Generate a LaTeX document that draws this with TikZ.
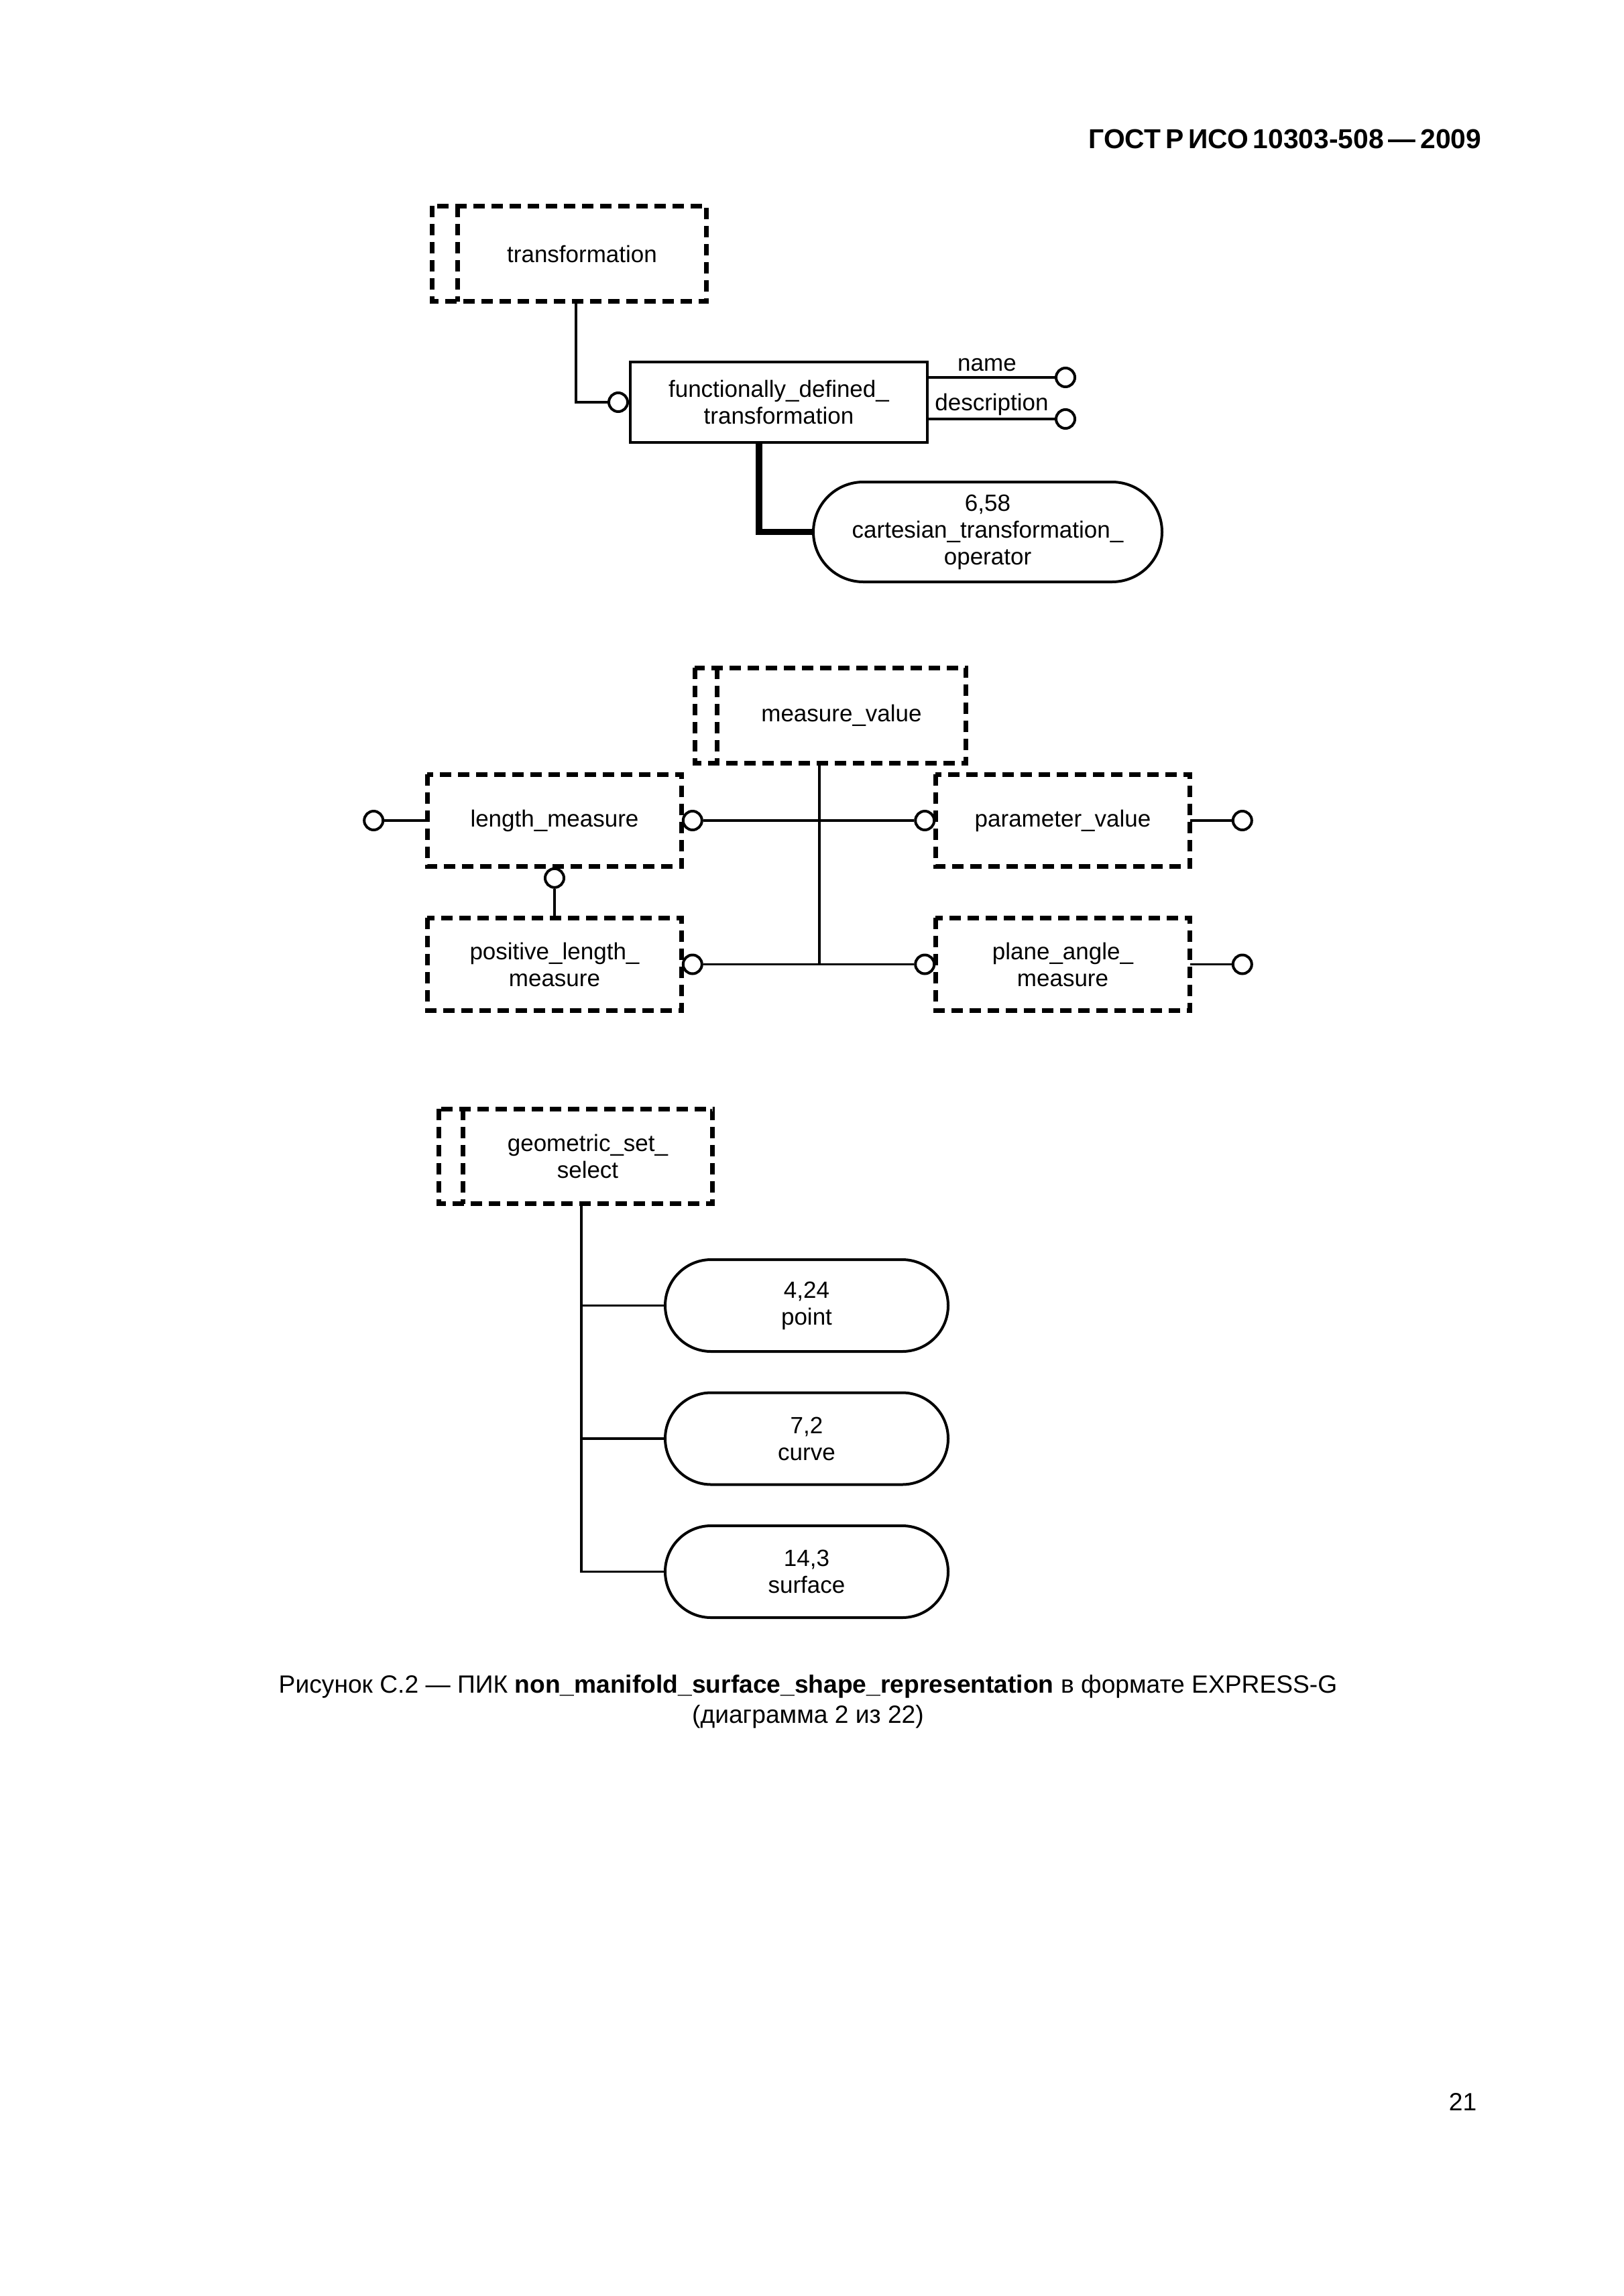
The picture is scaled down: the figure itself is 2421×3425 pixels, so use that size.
\documentclass[tikz,border=0pt]{standalone}
\usepackage{fontspec}
\setmainfont{Liberation Sans}
\usetikzlibrary{calc,shapes.misc}
\newcommand{\nodefont}{\fontsize{8.75pt}{10pt}\selectfont}
\newcommand{\hsp}{\hspace{0.17em}}
\begin{document}
\begin{tikzpicture}[x=0.25pt,y=-0.25pt,
  ent/.style={draw, line width=1pt, rectangle, inner sep=0pt, align=center, font=\nodefont},
  typ/.style={rectangle, inner sep=0pt, align=center, font=\nodefont},
  typstrip/.style={line width=1.75pt, dash pattern=on 4.25pt off 2.5pt},
  oval/.style={draw, line width=1pt, rounded rectangle, inner sep=0pt, align=center, font=\nodefont},
  circ/.style={circle, draw, line width=1pt, minimum size=7pt, inner sep=0pt, fill=white},
  conn/.style={line width=0.875pt},
  thickconn/.style={line width=2.4pt},
  lbl/.style={inner sep=0pt, font=\nodefont}]
\fill[white] (0,0) rectangle (2421,3425);
\useasboundingbox (0,0) rectangle (2421,3425);

% header and page number
\node[font=\fontsize{10.2pt}{12pt}\selectfont\bfseries, anchor=base east, inner sep=0pt] (hdr) at (2210,222) {ГОСТ\hsp Р\hsp ИСО\hsp 10303-508\hsp —\hsp 2009};
\node[font=\fontsize{9.3pt}{11pt}\selectfont, anchor=base east, inner sep=0pt] (pg) at (2203,3148) {21};

% ---------- section 1 ----------
\node[typ, minimum width=92.5pt, minimum height=35.25pt] (tr) at (868,378.5) {transformation};
\draw[typstrip] ($(tr.north west)+(-38,0)$) rectangle (tr.south east);
\draw[typstrip] (tr.north west) -- (tr.south west);

\node[ent, minimum width=110.75pt, minimum height=30pt] (fdt) at (1161.5,600) {functionally\_defined\_\\transformation};
\node[circ] (c1) at ($(fdt.west)+(-16,0)$) {};
\draw[conn] ($(tr.south)+(-9,0)$) |- (c1.west);

\node[circ] (cn) at (1589,563) {};
\node[circ] (cd) at (1589,625) {};
\draw[conn] (fdt.east |- cn) -- (cn.west);
\draw[conn] (fdt.east |- cd) -- (cd.west);
\node[lbl, anchor=base] (lname) at (1472,553) {name};
\node[lbl, anchor=base] (ldesc) at (1479,612) {description};

\node[oval, minimum width=130pt, minimum height=37.25pt] (cto) at (1473,793.5) {6,58\\cartesian\_transformation\_\\operator};
\draw[thickconn] ($(fdt.south)+(-29.5,0)$) |- (cto.west);

% ---------- section 2 ----------
\node[typ, minimum width=92.5pt, minimum height=35.25pt] (mv) at (1255,1067.5) {measure\_value};
\draw[typstrip] ($(mv.north west)+(-33,0)$) rectangle (mv.south east);
\draw[typstrip] (mv.north west) -- (mv.south west);

\node[typ, minimum width=94.5pt, minimum height=34pt] (lm) at (827,1224) {length\_measure};
\node[typ, minimum width=94.5pt, minimum height=34pt] (pv) at (1585,1224) {parameter\_value};
\node[typ, minimum width=94.5pt, minimum height=34.25pt] (plm) at (827,1438.5) {positive\_length\_\\measure};
\node[typ, minimum width=94.5pt, minimum height=34.25pt] (pa) at (1585,1438.5) {plane\_angle\_\\measure};
\draw[typstrip] (lm.north west) rectangle (lm.south east);
\draw[typstrip] (pv.north west) rectangle (pv.south east);
\draw[typstrip] (plm.north west) rectangle (plm.south east);
\draw[typstrip] (pa.north west) rectangle (pa.south east);

\node[circ] (lmL) at ($(lm.west)+(-80,0)$) {};
\node[circ] (lmR) at ($(lm.east)+(16,0)$) {};
\node[circ] (lmB) at ($(lm.south)+(0,17)$) {};
\node[circ] (pvL) at ($(pv.west)+(-16,0)$) {};
\node[circ] (pvR) at ($(pv.east)+(78,0)$) {};
\node[circ] (plmR) at ($(plm.east)+(16,0)$) {};
\node[circ] (paL) at ($(pa.west)+(-16,0)$) {};
\node[circ] (paR) at ($(pa.east)+(78,0)$) {};

\draw[conn] (lmL.east) -- (lm.west);
\draw[conn] (lmR.east) -- (pvL.west);
\draw[conn] (pv.east) -- (pvR.west);
\draw[conn] (plmR.east) -- (paL.west);
\draw[conn] (pa.east) -- (paR.west);
\draw[conn] (lmB.south) -- (plm.north);
\coordinate (mvj) at ($(mv.south)+(-33,0)$);
\draw[conn] (mvj) -- (mvj |- plmR.center);

% ---------- section 3 ----------
\node[typ, minimum width=92.75pt, minimum height=35pt] (gs) at (876.5,1725) {geometric\_set\_\\select};
\draw[typstrip] ($(gs.north west)+(-36,0)$) rectangle (gs.south east);
\draw[typstrip] (gs.north west) -- (gs.south west);

\node[oval, minimum width=105.5pt, minimum height=34.25pt] (pt) at (1203,1947.5) {4,24\\point};
\node[oval, minimum width=105.5pt, minimum height=34.25pt] (cv) at (1203,2146) {7,2\\curve};
\node[oval, minimum width=105.5pt, minimum height=34.25pt] (sf) at (1203,2344.5) {14,3\\surface};

\coordinate (gsj) at ($(gs.south)+(-9.5,0)$);
\draw[conn] (gsj) |- (sf.west);
\draw[conn] (gsj |- pt.west) -- (pt.west);
\draw[conn] (gsj |- cv.west) -- (cv.west);

% ---------- caption ----------
\node[font=\fontsize{9.3pt}{11pt}\selectfont, anchor=base, inner sep=0pt] (cap1) at (1205,2525) {Рисунок С.2 — ПИК \textbf{non\_manifold\_surface\_shape\_representation} в формате EXPRESS-G};
\node[font=\fontsize{9.3pt}{11pt}\selectfont, anchor=base, inner sep=0pt] (cap2) at (1205,2570) {(диаграмма 2 из 22)};
\end{tikzpicture}
\end{document}
